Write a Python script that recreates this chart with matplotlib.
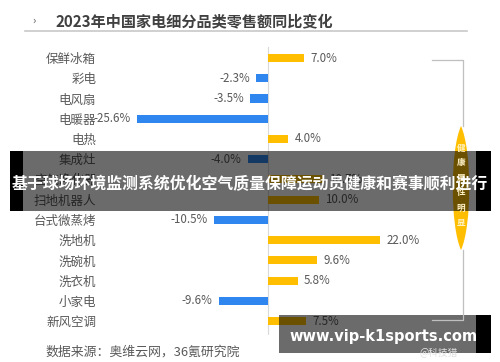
import matplotlib
matplotlib.use("Agg")
import matplotlib.pyplot as plt
from matplotlib.path import Path
from matplotlib.patches import PathPatch, Rectangle
from matplotlib.transforms import Affine2D

plt.rcParams['font.family'] = ['Noto Sans CJK SC', 'DejaVu Sans']

# ---- data ----
categories = ["保鲜冰箱", "彩电", "电风扇", "电暖器", "电热", "集成灶", "空气净化器",
              "扫地机器人", "台式微蒸烤", "洗地机", "洗碗机", "洗衣机", "小家电", "新风空调"]
values = [7.0, -2.3, -3.5, -25.6, 4.0, -4.0, 10.7,
          10.0, -10.5, 22.0, 9.6, 5.8, -9.6, 7.5]
title = "2023年中国家电细分品类零售额同比变化"
source = "数据来源：奥维云网，36氪研究院"
side_note = "健康属性明显"
banner_text = "基于球场环境监测系统优化空气质量保障运动员健康和赛事顺利进行"
url_text = "www.vip-k1sports.com"

POS = "#FFBF00"
NEG = "#2E86EE"

W, H = 500, 362
fig = plt.figure(figsize=(W / 100, H / 100), dpi=100)
px = Affine2D().scale(1 / W, -1 / H).translate(0, 1) + fig.transFigure

# axes: x -30..40 -> px 115..472 ; rows spaced ~20.2 px
ax = fig.add_axes([115 / W, 1 - 335 / H, 357 / W, 288 / H])
n = len(categories)
ax.set_xlim(-30, 40)
ax.set_ylim(13.69, -0.544)

colors = [POS if v >= 0 else NEG for v in values]
ax.barh(range(n), values, height=0.4, color=colors, zorder=2)

for i, v in enumerate(values):
    ax.annotate(f"{v:.1f}%", xy=(v, i), xytext=(4.5 if v >= 0 else -4.5, 0),
                textcoords="offset points", ha="left" if v >= 0 else "right",
                va="center", fontsize=8.3, color="#595959")

ax.set_yticks(range(n), labels=categories)
ax.tick_params(axis="y", length=0, pad=13.5, labelsize=9.0, labelcolor="#595959")
ax.set_xticks([])
for s in ax.spines.values():
    s.set_visible(False)
ax.axvline(0, color="#d9d9d9", lw=0.8, zorder=1)

# ---- title ----
fig.text(32 / W, 1 - 21 / H, "›", fontsize=8, color="#595959", va="center")
fig.text(55 / W, 1 - 21 / H, title, fontsize=10.9, fontweight="bold", color="#404040", va="center")
fig.add_artist(plt.Line2D([25, 467], [30.5, 30.5], transform=px, color="#c8c8c8", lw=1.2))

# ---- source ----
fig.text(45 / W, 1 - 352 / H, source, fontsize=9.3, color="#595959", va="center")
fig.text(420 / W, 1 - 352 / H, "@科技猎", fontsize=7, color="#e0e0e0", va="center")

# ---- bracket and teardrop ----
fig.add_artist(plt.Line2D([432, 463, 463], [60, 60, 126], transform=px, color="#bfbfbf", lw=0.9))
fig.add_artist(plt.Line2D([463, 463, 432], [250, 320, 320], transform=px, color="#bfbfbf", lw=0.9))
verts = [(461, 126), (472, 150), (472, 226), (461, 250), (450, 226), (450, 150), (461, 126)]
codes = [Path.MOVETO, Path.CURVE4, Path.CURVE4, Path.CURVE4, Path.CURVE4, Path.CURVE4, Path.CURVE4]
fig.add_artist(PathPatch(Path(verts, codes), transform=px, facecolor=POS, edgecolor="none"))
for k, ch in enumerate(side_note):
    fig.text(461 / W, 1 - (148 + k * 15) / H, ch, fontsize=6.2, fontweight="bold",
             color="#FFF3C8", ha="center", va="center")

# ---- overlay banners ----
fig.add_artist(Rectangle((22.7, 151), 453.3, 60, transform=px, facecolor="black", alpha=0.58, edgecolor="none"))
fig.add_artist(Rectangle((10, 151), 12.7, 60, transform=px, facecolor="black", edgecolor="none"))
fig.add_artist(Rectangle((476, 151), 15, 60, transform=px, facecolor="black", edgecolor="none"))
fig.text(250 / W, 1 - 184.5 / H, banner_text, fontsize=11.45, fontweight="bold",
         color="white", ha="center", va="center")

fig.add_artist(Rectangle((279, 315), 197, 38, transform=px, facecolor="black", alpha=0.58, edgecolor="none"))
fig.add_artist(Rectangle((476, 315), 15, 38, transform=px, facecolor="black", edgecolor="none"))
fig.text(384 / W, 1 - 336 / H, url_text, fontsize=10.5, fontweight="bold",
         color="white", ha="center", va="center", family="DejaVu Sans")

fig.savefig("out.png", dpi=100)
